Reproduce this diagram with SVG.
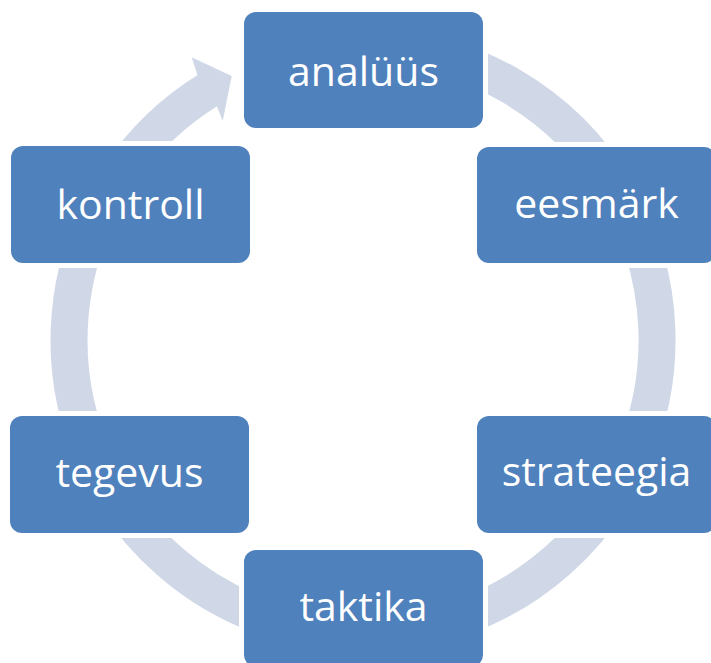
<svg xmlns="http://www.w3.org/2000/svg" width="711" height="663" viewBox="0 0 711 663">
<defs>
<style>
.box{fill:#4F81BD;stroke:#FFFFFF;stroke-width:10;paint-order:stroke}
.lbl{font-family:"Open Sans","Noto Sans","Liberation Sans",sans-serif;font-size:41px;fill:#FFFFFF;text-anchor:middle}
.ring{fill:none;stroke:#D0D8E8;stroke-width:37}
.head{fill:#D0D8E8}
</style>
</defs>
<rect width="711" height="663" fill="#FFFFFF"/>
<g id="connectors">
<path class="ring" d="M388.6,47.1 A294,294 0 1 1 211.6,88.0"/>
<polygon class="head" points="197.4,75.0 191.7,57.3 231.7,76 222.7,121 217.0,106.4"/>
</g>
<g id="node-analuus">
<rect class="box" x="244" y="12" width="239" height="116" rx="12"/>
<text class="lbl" x="363.5" y="86">analüüs</text>
</g>
<g id="node-eesmark">
<rect class="box" x="477" y="147" width="239" height="116" rx="12"/>
<text class="lbl" x="596.5" y="218">eesmärk</text>
</g>
<g id="node-strateegia">
<rect class="box" x="477" y="416" width="239" height="117" rx="12"/>
<text class="lbl" x="596.5" y="486">strateegia</text>
</g>
<g id="node-taktika">
<rect class="box" x="244" y="550" width="239" height="117" rx="12"/>
<text class="lbl" x="363.5" y="621">taktika</text>
</g>
<g id="node-tegevus">
<rect class="box" x="10" y="416" width="239" height="117" rx="12"/>
<text class="lbl" x="129.5" y="487">tegevus</text>
</g>
<g id="node-kontroll">
<rect class="box" x="11" y="146" width="239" height="117" rx="12"/>
<text class="lbl" x="130.5" y="219">kontroll</text>
</g>
</svg>
